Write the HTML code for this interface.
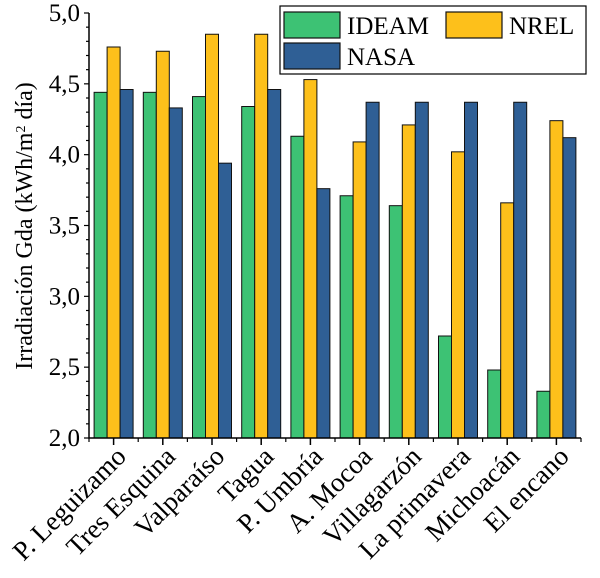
<!DOCTYPE html>
<html><head><meta charset="utf-8"><style>
body{margin:0;background:#fff}
svg{display:block;font-family:"Liberation Serif",serif}
</style></head><body>
<svg id="chart" width="600" height="578"></svg>
<script>
const categories=["P. Leguizamo","Tres Esquina","Valparaíso","Tagua","P. Umbría","A. Mocoa","Villagarzón","La primavera","Michoacán","El encano"];
const ideam=[4.44,4.44,4.41,4.34,4.13,3.71,3.64,2.72,2.48,2.33];
const nrel=[4.76,4.73,4.85,4.85,4.53,4.09,4.21,4.02,3.66,4.24];
const nasa=[4.46,4.33,3.94,4.46,3.76,4.37,4.37,4.37,4.37,4.12];
const yTicks=[2.0,2.5,3.0,3.5,4.0,4.5,5.0];
const yTickLabels=["2,0","2,5","3,0","3,5","4,0","4,5","5,0"];

const NS="http://www.w3.org/2000/svg";
const svg=document.getElementById('chart');
const X0=89,X1=581,Y0=438,Y1=13,YMIN=2,YMAX=5;
const step=(X1-X0)/categories.length;
const y=v=>Y0-(v-YMIN)/(YMAX-YMIN)*(Y0-Y1);
const xc=i=>X0+step*(i+0.5);
function mk(t,a,p){const e=document.createElementNS(NS,t);for(const k in a)e.setAttribute(k,a[k]);(p||svg).appendChild(e);return e;}

const series=[[ideam,"#3dc274","ideam"],[nrel,"#fdc01b","nrel"],[nasa,"#2f5f95","nasa"]];
const bw=13;
series.forEach(([vals,col,nm],s)=>{
  vals.forEach((v,i)=>{
    const r=mk('rect',{x:xc(i)-bw*1.5+s*bw,y:y(v),width:bw,height:Y0-y(v),fill:col,stroke:"#111","stroke-width":1});
    
    
  });
});
const ax=mk('path',{d:`M${X0},${Y1} V${Y0} H${X1}`,fill:"none",stroke:"#000","stroke-width":1.5});


for(let v=2;v<=5.001;v+=0.1){
  const major=Math.abs(v*2-Math.round(v*2))<0.01;
  mk('line',{x1:X0-(major?5:3),x2:X0,y1:y(v),y2:y(v),stroke:"#000","stroke-width":1.2});
}
yTicks.forEach((v,i)=>{
  const t=mk('text',{x:80,y:y(v)+8,"text-anchor":"end","font-size":25});
  t.textContent=yTickLabels[i];
  
  
});
for(let i=0;i<=categories.length;i++){
  const xx=X0+step*i;
  mk('line',{x1:xx,x2:xx,y1:Y0,y2:Y0+4,stroke:"#000","stroke-width":1.2});
}
categories.forEach((c,i)=>{
  mk('line',{x1:xc(i),x2:xc(i),y1:Y0,y2:Y0+7,stroke:"#000","stroke-width":1.5});
  const ax_=xc(i)+14, ay=Y0+20;
  const t=mk('text',{x:ax_,y:ay,"text-anchor":"end","font-size":27,transform:`rotate(-45 ${ax_} ${ay})`});
  t.textContent=c;
  
  
});
const yl=mk('text',{x:0,y:0,"text-anchor":"middle","font-size":24,transform:"translate(32 226) rotate(-90)"});
yl.innerHTML='Irradiación Gda (kWh/m<tspan baseline-shift="super" font-size="14">2</tspan> día)';


const lg=mk('g',{});


mk('rect',{x:280,y:6,width:306,height:68,fill:"#fff",stroke:"#000","stroke-width":1.2},lg);
[[284,12,"#3dc274","IDEAM",347],[446,12,"#fdc01b","NREL",509],[284,43,"#2f5f95","NASA",347]].forEach(([lx,ly,col,lab,tx])=>{
  const g=mk('g',{},lg);
  
  
  mk('rect',{x:lx,y:ly,width:56,height:26,fill:col,stroke:"#111","stroke-width":1.2},g);
  const t=mk('text',{x:tx,y:ly+22,"font-size":25},g);t.textContent=lab;
});
</script>
</body></html>
